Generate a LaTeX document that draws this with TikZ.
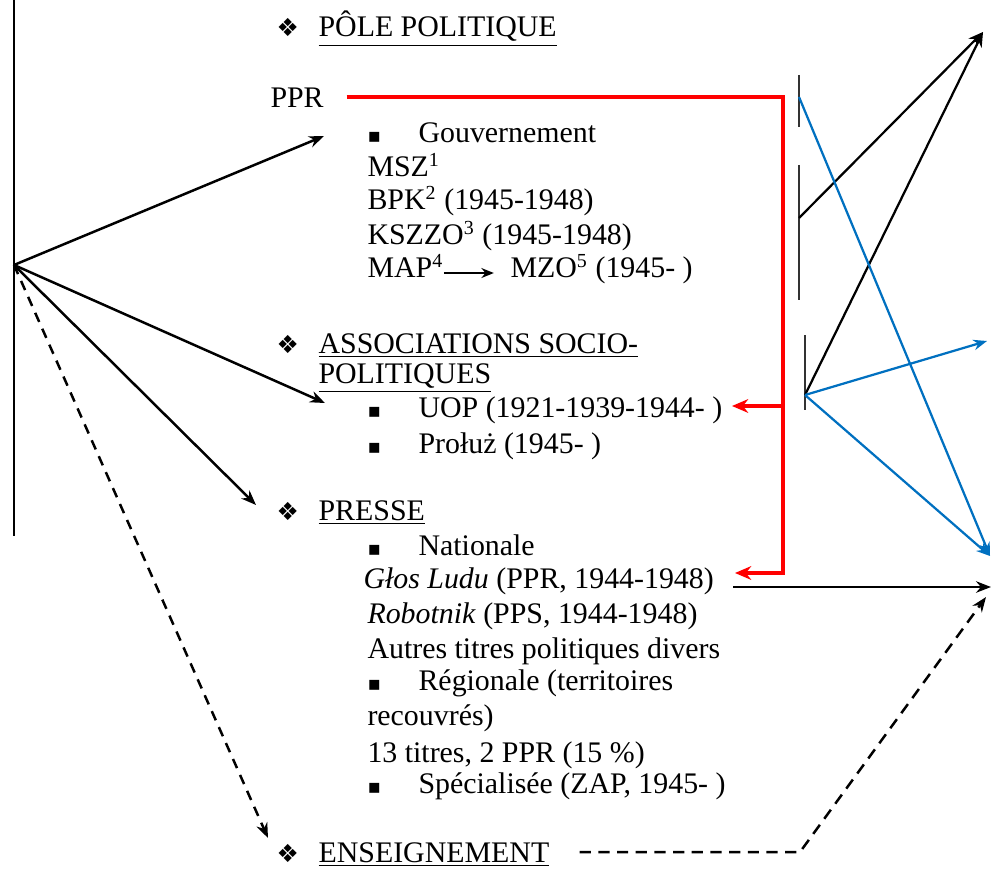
\documentclass[tikz,border=0pt]{standalone}
\usepackage{fontspec}
\setmainfont{Liberation Serif}
\newfontfamily\symb{DejaVu Sans}
\usetikzlibrary{arrows.meta}

\definecolor{bleu}{RGB}{0,112,192}

\newcommand{\puce}{\makebox[20.5pt][l]{\symb\fontsize{8}{8}\selectfont ▪}}
\newcommand{\losange}{\makebox[16.9pt][l]{\symb\fontsize{10}{10}\selectfont ❖}}

\tikzstyle{ligne} = [anchor=base west, inner sep=0pt, font=\fontsize{12}{14}\selectfont]
\tikzstyle{fleche} = [-{Stealth[length=6pt,width=4.6pt]}, line width=1pt]
\tikzstyle{rouge} = [-{Stealth[length=6.5pt,width=5.5pt]}, draw=red, line width=1.7pt]
\tikzstyle{bleue} = [-{Stealth[length=5.5pt,width=4.2pt]}, draw=bleu, line width=0.9pt]
\tikzstyle{barre} = [draw=black!80, line width=0.8pt]

\begin{document}
\begin{tikzpicture}[x=0.4016pt, y=-0.4016pt]
	\useasboundingbox (0,0) rectangle (991,869);

	% poles
	\node (pole)     [ligne] at (276,37)  {\losange\underline{PÔLE POLITIQUE}};
	\node (ppr)      [ligne] at (270,108) {PPR};
	\node (gouv)     [ligne] at (367,143) {\puce Gouvernement};
	\node (msz)      [ligne] at (367,177) {MSZ\textsuperscript{1}};
	\node (bpk)      [ligne] at (367,210) {BPK\textsuperscript{2} (1945-1948)};
	\node (kszzo)    [ligne] at (367,245) {KSZZO\textsuperscript{3} (1945-1948)};
	\node (map)      [ligne] at (367,278) {MAP\textsuperscript{4}};
	\node (mzo)      [ligne] at (510,278) {MZO\textsuperscript{5} (1945- )};

	\node (assoc)    [ligne] at (276,353) {\losange\underline{ASSOCIATIONS SOCIO-}};
	\node (assocb)   [ligne] at (318,383) {\underline{POLITIQUES}};
	\node (uop)      [ligne] at (367,417) {\puce UOP (1921-1939-1944- )};
	\node (proluz)   [ligne] at (367,453) {\puce Prołuż (1945- )};

	\node (presse)   [ligne] at (276,520) {\losange\underline{PRESSE}};
	\node (nationale)[ligne] at (367,555) {\puce Nationale};
	\node (glos)     [ligne] at (363,588) {\textit{Głos Ludu} (PPR, 1944-1948)};
	\node (robotnik) [ligne] at (367,623) {\textit{Robotnik} (PPS, 1944-1948)};
	\node (autres)   [ligne] at (367,658) {Autres titres politiques divers};
	\node (regionale)[ligne] at (367,690) {\puce Régionale (territoires};
	\node (recouvres)[ligne] at (367,725) {recouvrés)};
	\node (titres)   [ligne] at (367,762) {13 titres, 2 PPR (15 \%)};
	\node (special)  [ligne] at (367,793) {\puce Spécialisée (ZAP, 1945- )};

	\node (enseign)  [ligne] at (276,862) {\losange\underline{ENSEIGNEMENT}};

	% points
	\coordinate (origine) at (14,265);
	\coordinate (vPole)   at (324,136);
	\coordinate (vAssoc)  at (325,403);
	\coordinate (vPresse) at (256,505);
	\coordinate (vEns)    at (268,838);
	\coordinate (coinPPR) at (783,97);
	\coordinate (coinGlos) at (783,573);
	\coordinate (brUOP)   at (783,406);
	\coordinate (fUOP)    at (732,406);
	\coordinate (fGlos)   at (735,573);
	\coordinate (b1) at (799,97);
	\coordinate (b2) at (799,218);
	\coordinate (b3) at (805,395);
	\coordinate (haut)    at (983,32);
	\coordinate (milieu)  at (987,341);
	\coordinate (bas)     at (990,556);
	\coordinate (cible)   at (991,587);
	\coordinate (sortie)  at (733,587);
	\coordinate (coudeEns) at (800,852);
	\coordinate (basEns)  at (986,597);

	% gauche
	\draw[line width=0.6pt] (14,0) -- (14,536);
	\draw[fleche] (origine) -- (vPole);
	\draw[fleche] (origine) -- (vAssoc);
	\draw[fleche] (origine) -- (vPresse);
	\draw[fleche, dash pattern=on 4pt off 3pt] (origine) -- (vEns);
	\draw[-{Stealth[length=5pt,width=4pt]}, line width=0.7pt] ([yshift=2pt]map.base east) -- ([xshift=-6.5pt,yshift=2pt]mzo.base west);

	% rouge
	\draw[rouge] ([xshift=9pt]ppr.east |- coinPPR) -- (coinPPR) -- (coinGlos) -- (fGlos);
	\draw[rouge] (brUOP) -- (fUOP);

	% droite
	\draw[barre] (799,75) -- (799,127);
	\draw[barre] (799,165) -- (799,300);
	\draw[barre] (805,335) -- (805,410);
	\draw[fleche, line width=0.9pt] (b2) -- (haut);
	\draw[fleche, line width=0.9pt] (b3) -- (haut);
	\draw[bleue] (b1) -- (bas);
	\draw[bleue] (b3) -- (milieu);
	\draw[bleue] (b3) -- (bas);
	\draw[fleche, line width=1.1pt] (sortie) -- (cible);
	\draw[fleche, dash pattern=on 4.5pt off 3pt] ([xshift=12pt]enseign.east |- coudeEns) -- (coudeEns) -- (basEns);
\end{tikzpicture}
\end{document}
